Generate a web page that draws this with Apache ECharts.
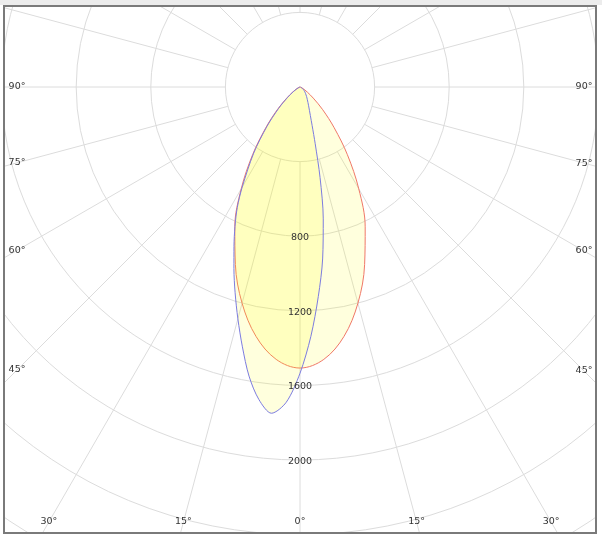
<!DOCTYPE html>
<html><head><meta charset="utf-8">
<script src="https://cdn.jsdelivr.net/npm/echarts@6/dist/echarts.min.js"></script>
<style>
html,body{margin:0;padding:0;background:#fff;width:602px;height:537px;overflow:hidden;}
#band{position:absolute;left:0;top:0;width:602px;height:5px;background:#ececec;}
#frame{position:absolute;left:3px;top:5px;width:590px;height:525px;border:2px solid #7a7a7a;background:#fff;}
#chart{position:absolute;left:0;top:0;width:590px;height:525px;}
</style></head><body>
<div id="band"></div>
<div id="frame"><div id="chart"></div></div>
<script>
// C0-C180 plane (red), signed angle from nadir (negative = left)
const redAngles = [-75,-70,-65,-60,-55,-50,-45,-40,-35,-30,-25,-20,-15,-10,-5,0,5,10,15,20,25,30,35,40,45,50,55,60,65,70,75];
const redValues = [0,5,12,25,49,93,172,285,443,630,827,1013,1200,1358,1466,1507,1466,1358,1200,1013,827,630,443,285,172,93,49,25,12,5,0];
// C90-C270 plane (blue)
const blueAngles = [-70,-65,-60,-55,-50,-45,-40,-35,-30,-27.5,-25,-22.5,-20,-17.5,-15,-12.5,-10,-7.5,-5,-2.5,0,2.5,5,7.5,10,12.5,15,17.5,20,25,30,35,40,45,50,55,60,65,70,75];
const blueValues = [0,8,20,44,87,162,276,433,620,728,825,925,1036,1157,1287,1427,1574,1690,1756,1692,1535,1338,1127,930,718,497,315,216,162,108,79,61,47,37,28,20,14,8,3,0];
const radiusTickLabels = [800,1200,1600,2000];
const angleTickLabels = [0,15,30,45,60,75,90];

const PX_PER_CD = 0.1865;
const RMAX = 3200;
const RSTEP = 400;
const CENTER = [295, 80];
const GRID = '#dcdcdc';
const FONT = '9.5px "DejaVu Sans"';
const TXT = '#333333';

const chart = echarts.init(document.getElementById('chart'), null, {renderer:'canvas'});

function hiddenAxis(extra){ return Object.assign({axisLine:{show:false},axisTick:{show:false},axisLabel:{show:false},splitLine:{show:false}}, extra); }

const option = {
  animation:false,
  backgroundColor:'#fff',
  polar:[
    {center:CENTER, radius:[RSTEP*PX_PER_CD, RMAX*PX_PER_CD]},
    {center:CENTER, radius:[0, RMAX*PX_PER_CD]}
  ],
  angleAxis:[
    {polarIndex:0, type:'value', min:-180, max:180, interval:15, startAngle:90, clockwise:false,
     axisLine:{show:false}, axisTick:{show:false}, axisLabel:{show:false},
     splitLine:{show:true, lineStyle:{color:GRID, width:1}}},
    hiddenAxis({polarIndex:1, type:'value', min:-180, max:180, interval:15, startAngle:90, clockwise:false})
  ],
  radiusAxis:[
    {polarIndex:0, type:'value', min:RSTEP, max:RMAX, interval:RSTEP,
     axisLine:{show:false}, axisTick:{show:false}, axisLabel:{show:false},
     splitLine:{show:true, lineStyle:{color:GRID, width:1}}},
    hiddenAxis({polarIndex:1, type:'value', min:0, max:RMAX, interval:RSTEP})
  ],
  series:[
    {type:'line', coordinateSystem:'polar', polarIndex:1, symbol:'none', smooth:0.35,
     data:redAngles.map((a,i)=>[redValues[i], a]),
     lineStyle:{color:'#f07868', width:1},
     areaStyle:{color:'rgba(255,255,0,0.19)'}, z:2},
    {type:'line', coordinateSystem:'polar', polarIndex:1, symbol:'none', smooth:0.3,
     data:blueAngles.map((a,i)=>[blueValues[i], a]),
     lineStyle:{color:'#7c7ce0', width:1},
     areaStyle:{color:'rgba(255,255,0,0.19)'}, z:3}
  ]
};
chart.setOption(option);

// labels
const W = 590, H = 525;
const LEFT_X = 12, RIGHT_X = W - 11, BOTTOM_Y = H - 10;
const c = chart.convertToPixel({seriesIndex:0}, [0, 0]);
const graphics = [];
radiusTickLabels.forEach(v=>{
  const p = chart.convertToPixel({seriesIndex:0}, [v, 0]);
  graphics.push({type:'text', x:p[0], y:p[1]+1.5, z:20,
    style:{text:String(v), font:FONT, fill:TXT, align:'center', verticalAlign:'middle'}});
});
const placed = {};
angleTickLabels.forEach(a=>{
  [-1,1].forEach(s=>{
    const q = chart.convertToPixel({seriesIndex:0}, [1000, s*a]);
    const dx = q[0]-c[0], dy = q[1]-c[1];
    let t = Infinity;
    if (dx < -1e-6) t = Math.min(t, (LEFT_X - c[0])/dx);
    if (dx > 1e-6) t = Math.min(t, (RIGHT_X - c[0])/dx);
    if (dy > 1e-6) t = Math.min(t, (BOTTOM_Y - c[1])/dy);
    const x = c[0]+dx*t, y = c[1]+dy*t;
    const key = Math.round(x)+','+Math.round(y);
    if (placed[key]) return; placed[key]=1;
    graphics.push({type:'text', x:x, y:y, z:20,
      style:{text:a+'°', font:FONT, fill:TXT, align:'center', verticalAlign:'middle'}});
  });
});
chart.setOption({graphic:graphics});
</script>
</body></html>
